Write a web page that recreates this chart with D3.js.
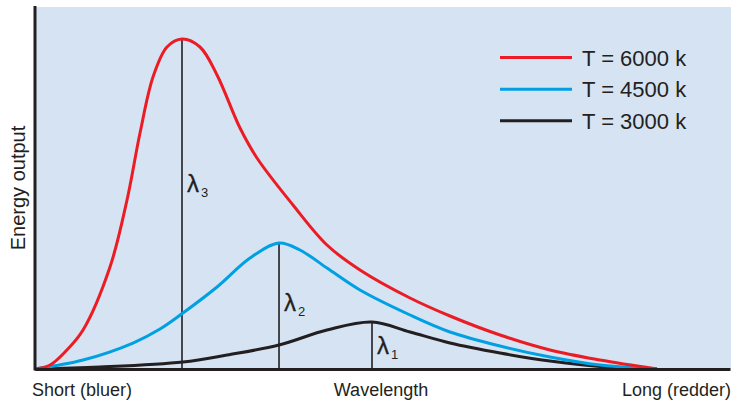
<!DOCTYPE html>
<html><head><meta charset="utf-8">
<script src="https://cdn.jsdelivr.net/npm/d3@7"></script>
<style>
html,body{margin:0;padding:0;background:#fff;}
svg{display:block;font-family:"Liberation Sans",Arial,Helvetica,sans-serif;}
</style></head>
<body>
<svg id="chart" width="733" height="400"></svg>
<script>
// wavelength (arbitrary units, 0-100 across axis) and energy (arbitrary, 0-100)
const wavelength6000 = [0, 2.16, 4.32, 6.91, 10.79, 13.24, 15.11, 16.98, 18.99, 21.15, 23.74, 26.19, 29.50, 31.94, 37.12, 42.01, 46.76, 53.96, 59.71, 66.91, 74.10, 81.29, 89.5];
const energy6000     = [0, 1.10, 4.70, 10.77, 28.18, 46.69, 65.19, 80.66, 88.95, 91.16, 88.95, 81.22, 66.57, 58.29, 45.30, 34.25, 27.35, 19.61, 14.64, 9.39, 5.25, 2.49, 0];
const wavelength4500 = [0, 6.91, 14.10, 17.99, 21.29, 26.19, 30.94, 35.11, 38.13, 42.01, 46.76, 53.96, 59.71, 66.91, 74.10, 81.29, 89.5];
const energy4500     = [0, 2.49, 7.18, 11.05, 15.47, 22.65, 30.66, 34.81, 32.87, 27.90, 21.82, 14.92, 10.22, 6.35, 3.31, 1.10, 0];
const wavelength3000 = [0, 9.35, 21.29, 27.63, 35.11, 42.01, 48.49, 53.96, 59.71, 66.91, 74.10, 81.29, 89.5];
const energy3000     = [0, 0.55, 1.93, 3.87, 6.63, 10.77, 12.98, 10.22, 7.18, 4.42, 2.21, 0.69, 0];
const seriesNames  = ["T = 6000 k", "T = 4500 k", "T = 3000 k"];
const peakLabels   = ["3", "2", "1"];
const axisLabels   = ["Short (bluer)", "Wavelength", "Long (redder)"];
const yAxisLabel   = "Energy output";

const colors = ["#ec1c24", "#00a0e2", "#231f20"];
const series = [
  {name: seriesNames[0], xs: wavelength6000, ys: energy6000, color: colors[0], sub: peakLabels[0]},
  {name: seriesNames[1], xs: wavelength4500, ys: energy4500, color: colors[1], sub: peakLabels[1]},
  {name: seriesNames[2], xs: wavelength3000, ys: energy3000, color: colors[2], sub: peakLabels[2]}
].map(s => ({...s, pts: s.xs.map((x, i) => [x, s.ys[i]])}));

const svg = d3.select("#chart");
const mLeft = 35, mRight = 730, mTop = 7, mBottom = 369;
const x = d3.scaleLinear().domain([0, 100]).range([mLeft, mRight]);
const y = d3.scaleLinear().domain([0, 100]).range([mBottom, mTop]);

svg.append("rect").attr("x", mLeft).attr("y", mTop).attr("width", 731 - mLeft).attr("height", mBottom - mTop).attr("fill", "#d5e3f3");

// peak vertical lines
const peakG = svg.append("g");
series.forEach((s, i) => {
  const idx = d3.maxIndex(s.ys);
  const px = x(s.xs[idx]), py = y(s.ys[idx]);
  peakG.append("line").attr("x1", px).attr("x2", px).attr("y1", py).attr("y2", y(0))
    .attr("stroke", "#231f20").attr("stroke-width", 1.6);
});

const line = d3.line().x(d => x(d[0])).y(d => y(d[1])).curve(d3.curveCatmullRom.alpha(0.5));
// draw in order black, blue, red so red on top
[2, 1, 0].forEach(i => {
  svg.append("path").attr("d", line(series[i].pts)).attr("fill", "none")
    .attr("stroke", series[i].color).attr("stroke-width", 3).attr("stroke-linejoin", "round");
});

// lambda labels
const lamY = [192, 311, 354];
series.forEach((s, i) => {
  const idx = d3.maxIndex(s.ys);
  const px = x(s.xs[idx]);
  svg.append("text").attr("x", px + 5).attr("y", lamY[i]).attr("fill", "#231f20")
    .attr("font-size", 24).attr("stroke", "#231f20").attr("stroke-width", 0.3).text("λ");
  svg.append("text").attr("x", px + 19).attr("y", lamY[i] + 5).attr("fill", "#231f20")
    .attr("font-size", 13).text(s.sub);
});

// axes
const xAxis = d3.axisBottom(x).tickValues([]).tickSizeOuter(0);
const gx = svg.append("g").attr("transform", `translate(0,${mBottom})`).call(xAxis);
gx.select(".domain").attr("stroke", "#231f20").attr("stroke-width", 3);
const yAxis = d3.axisLeft(y).tickValues([]).tickSizeOuter(0);
const gy = svg.append("g").attr("transform", `translate(${mLeft},0)`).call(yAxis);
gy.select(".domain").attr("stroke", "#231f20").attr("stroke-width", 3).attr("d", `M0,${mTop - 1}V${mBottom + 1.5}`);

// axis labels
svg.append("text").attr("x", 32).attr("y", 396).attr("font-size", 18).attr("fill", "#231f20").text(axisLabels[0]);
svg.append("text").attr("x", 381).attr("y", 396).attr("font-size", 18).attr("fill", "#231f20").attr("text-anchor", "middle").text(axisLabels[1]);
svg.append("text").attr("x", 731).attr("y", 396).attr("font-size", 18).attr("fill", "#231f20").attr("text-anchor", "end").text(axisLabels[2]);
svg.append("text").attr("transform", "translate(25,188) rotate(-90)").attr("font-size", 20).attr("fill", "#231f20").attr("text-anchor", "middle").text(yAxisLabel);

// legend
const legY = [57.5, 89.3, 120.7];
series.forEach((s, i) => {
  svg.append("line").attr("x1", 500).attr("x2", 572).attr("y1", legY[i]).attr("y2", legY[i])
    .attr("stroke", s.color).attr("stroke-width", 3);
  svg.append("text").attr("x", 582).attr("y", legY[i] + 8).attr("font-size", 22).attr("fill", "#231f20").text(s.name);
});
</script>
</body></html>
